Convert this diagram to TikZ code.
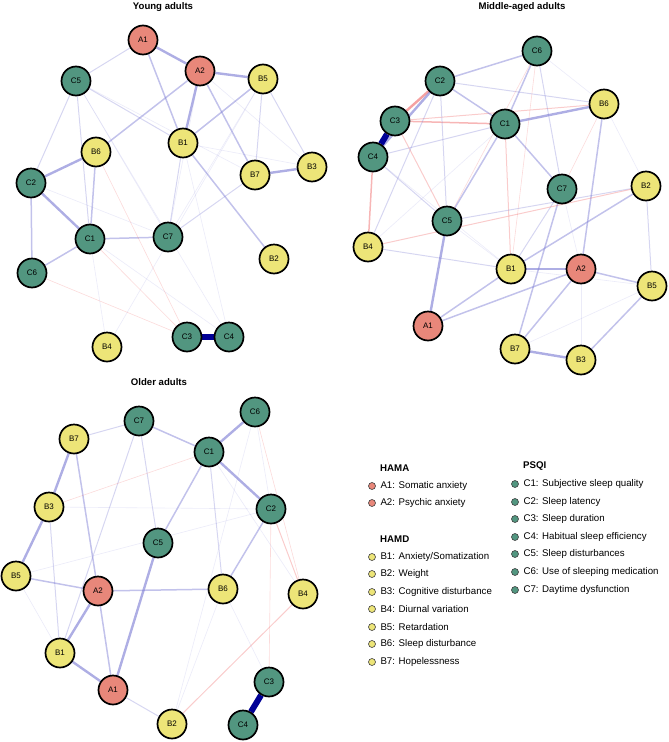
\documentclass[tikz,border=0pt]{standalone}
\usepackage{fontspec}
\setmainfont{Liberation Sans}
\usepackage{tikz}
\usetikzlibrary{positioning,backgrounds}
\definecolor{hama}{RGB}{232,135,122}
\definecolor{hamd}{RGB}{237,229,120}
\definecolor{psqi}{RGB}{82,150,128}
\definecolor{posedge}{RGB}{120,120,210}
\definecolor{negedge}{RGB}{240,110,110}
\definecolor{strongpos}{RGB}{0,0,150}
\tikzset{
  anode/.style={circle, draw=black, line width=1.7pt, minimum size=29pt,
                inner sep=0pt, font=\fontsize{8}{9}\selectfont},
  hamanode/.style={anode, fill=hama},
  hamdnode/.style={anode, fill=hamd},
  psqinode/.style={anode, fill=psqi},
  wk/.style={posedge, line width=0.6pt, draw opacity=0.15},
  lt/.style={posedge, line width=1pt, draw opacity=0.3},
  md/.style={posedge, line width=1.5pt, draw opacity=0.45},
  st/.style={posedge, line width=2.4pt, draw opacity=0.6},
  xs/.style={strongpos, line width=6pt},
  nwk/.style={negedge, line width=0.6pt, draw opacity=0.25},
  nlt/.style={negedge, line width=1pt, draw opacity=0.35},
  nmd/.style={negedge, line width=1.5pt, draw opacity=0.5},
  nst/.style={negedge, line width=2.4pt, draw opacity=0.65},
  ptitle/.style={font=\fontsize{9.6}{11}\selectfont\bfseries},
  ldot/.style={circle, draw=black!75, line width=0.6pt, minimum size=7pt, inner sep=0pt},
  ltext/.style={font=\fontsize{9.7}{11}\selectfont, inner sep=0pt, anchor=west},
  lhead/.style={font=\fontsize{9.7}{11}\selectfont\bfseries, inner sep=0pt, anchor=west},
}

\begin{document}
\begin{tikzpicture}[x=1pt,y=-1pt]
  \useasboundingbox (0,0) rectangle (669,742);

  % --- Young adults ---
  \node[ptitle] (tyoung) at (163,7) {Young adults};
  \foreach \n/\x/\y/\s in {A1/143/40/hamanode,A2/200/71/hamanode,
      C5/76/81/psqinode,B5/263/79/hamdnode,B1/183/143/hamdnode,B6/96/152/hamdnode,
      B7/255/175/hamdnode,B3/312/167/hamdnode,C2/31/183/psqinode,C1/90/239/psqinode,
      C7/168/237/psqinode,B2/274/259/hamdnode,C6/32/273/psqinode,C3/187/337/psqinode,
      C4/229/337/psqinode,B4/107/347/hamdnode}{
    \node[\s] (y\n) at (\x,\y) {\n};
  }
  \begin{scope}[on background layer]
    \foreach \a/\b/\s in {A1/A2/st,A1/C5/lt,A1/B1/md,A2/B5/st,A2/B1/st,A2/B6/md,
        A2/B7/md,A2/B3/wk,A2/C7/wk,B5/B1/md,B5/B7/lt,B5/B3/lt,B5/C7/wk,B7/B3/st,
        B7/C7/lt,B1/B2/md,B1/C7/lt,C5/B1/lt,C5/C2/lt,C5/C1/lt,C5/C7/wk,C5/B7/wk,
        B6/C2/st,B6/C1/md,C2/C1/st,C2/C6/md,C1/C6/md,C1/C7/md,C2/C7/wk,C1/B4/wk,
        B4/B5/wk,C4/B1/wk,C4/C5/wk,C1/C4/wk,B1/B3/wk,
        B6/C3/nwk,C6/C3/nwk,C1/C3/nwk,C3/C4/xs}{
      \draw[\s] (y\a) -- (y\b);
    }
  \end{scope}

  % --- Middle-aged adults ---
  \node[ptitle] (tmiddle) at (522,7) {Middle-aged adults};
  \foreach \n/\x/\y/\s in {C6/537/51/psqinode,C2/440/81/psqinode,B6/604/104/hamdnode,
      C3/395/121/psqinode,C1/505/124/psqinode,C4/373/157/psqinode,C7/562/189/psqinode,
      B2/646/186/hamdnode,C5/447/221/psqinode,B4/368/247/hamdnode,B1/511/269/hamdnode,
      A2/581/269/hamanode,B5/652/286/hamdnode,A1/428/326/hamanode,B7/515/349/hamdnode,
      B3/581/360/hamdnode}{
    \node[\s] (m\n) at (\x,\y) {\n};
  }
  \begin{scope}[on background layer]
    \foreach \a/\b/\s in {C2/C3/nst,C2/C4/st,C3/C1/nmd,C3/B6/nlt,C3/C5/nlt,
        C4/B4/nmd,C4/C1/lt,C4/C5/lt,C2/C6/md,C2/B6/lt,C2/C1/md,C2/C5/lt,C2/B4/lt,
        C6/C1/md,C6/C5/nwk,C6/B1/nwk,C6/C7/lt,C6/B6/wk,C1/B6/st,C1/C7/md,C1/C5/md,
        C1/B1/nlt,C1/B4/wk,B6/A2/md,B6/C7/nwk,B6/B2/wk,C7/B1/lt,C7/B7/md,C7/A2/wk,
        B2/C5/lt,B2/B4/nlt,B2/B1/md,B2/B5/lt,C5/A1/st,C5/B1/wk,B4/B1/lt,B1/A2/st,
        B1/A1/md,A2/A1/md,A2/B5/md,A2/B7/md,A2/B3/wk,B1/B5/wk,B5/B3/md,B5/B7/wk,
        B7/B3/st,C4/B1/wk,C3/C4/xs}{
      \draw[\s] (m\a) -- (m\b);
    }
  \end{scope}

  % --- Older adults ---
  \node[ptitle] (tolder) at (159,382) {Older adults};
  \foreach \n/\x/\y/\s in {C6/255/412/psqinode,C7/139/421/psqinode,B7/74/439/hamdnode,
      C1/209/452/psqinode,B3/49/507/hamdnode,C2/271/509/psqinode,C5/158/543/psqinode,
      B5/16/576/hamdnode,A2/98/591/hamanode,B6/223/589/hamdnode,B4/303/594/hamdnode,
      B1/60/653/hamdnode,A1/113/690/hamanode,C3/269/682/psqinode,B2/172/724/hamdnode,
      C4/243/725/psqinode}{
    \node[\s] (o\n) at (\x,\y) {\n};
  }
  \begin{scope}[on background layer]
    \foreach \a/\b/\s in {C7/B7/lt,C7/C1/md,C7/C5/lt,C7/B1/lt,C6/C1/st,C1/C2/st,
        C1/C5/md,C1/B6/lt,C1/B4/wk,B7/B3/st,B7/A2/md,B3/B5/st,B3/B1/lt,B3/C2/wk,
        B3/C1/nwk,C2/B6/md,C2/B4/nlt,C2/C3/nwk,C2/B5/wk,B5/A2/md,B5/B1/wk,A2/B6/md,
        A2/B1/st,A2/A1/md,C5/A1/st,B1/A1/st,A1/B2/lt,B2/B4/nlt,B6/C3/wk,B6/B2/wk,
        C6/B2/wk,C6/B4/nwk,C6/C2/wk,C3/C4/xs}{
      \draw[\s] (o\a) -- (o\b);
    }
  \end{scope}

  % --- Legend ---
  \node[lhead] (hhama) at (380,468) {HAMA};
  \node[lhead] (hhamd) at (380,539) {HAMD};
  \node[lhead] (hpsqi) at (523,466) {PSQI};
  \foreach \k/\y/\t in {A1/486/Somatic anxiety,A2/503/Psychic anxiety}{
    \node[ldot, fill=hama] (l\k) at (372,\y) {};
    \node[ltext, right=4.5pt of l\k] {\k: \t};
  }
  \foreach \k/\y/\t in {B1/557/Anxiety\slash Somatization,B2/574/Weight,
      B3/592/Cognitive disturbance,B4/609/Diurnal variation,B5/627/Retardation,
      B6/644/Sleep disturbance,B7/662/Hopelessness}{
    \node[ldot, fill=hamd] (l\k) at (372,\y) {};
    \node[ltext, right=4.5pt of l\k] {\k: \t};
  }
  \foreach \k/\y/\t in {C1/484/Subjective sleep quality,C2/502/Sleep latency,
      C3/519/Sleep duration,C4/537/Habitual sleep efficiency,C5/554/Sleep disturbances,
      C6/572/Use of sleeping medication,C7/590/Daytime dysfunction}{
    \node[ldot, fill=psqi] (l\k) at (515,\y) {};
    \node[ltext, right=4.5pt of l\k] {\k: \t};
  }
\end{tikzpicture}
\end{document}
